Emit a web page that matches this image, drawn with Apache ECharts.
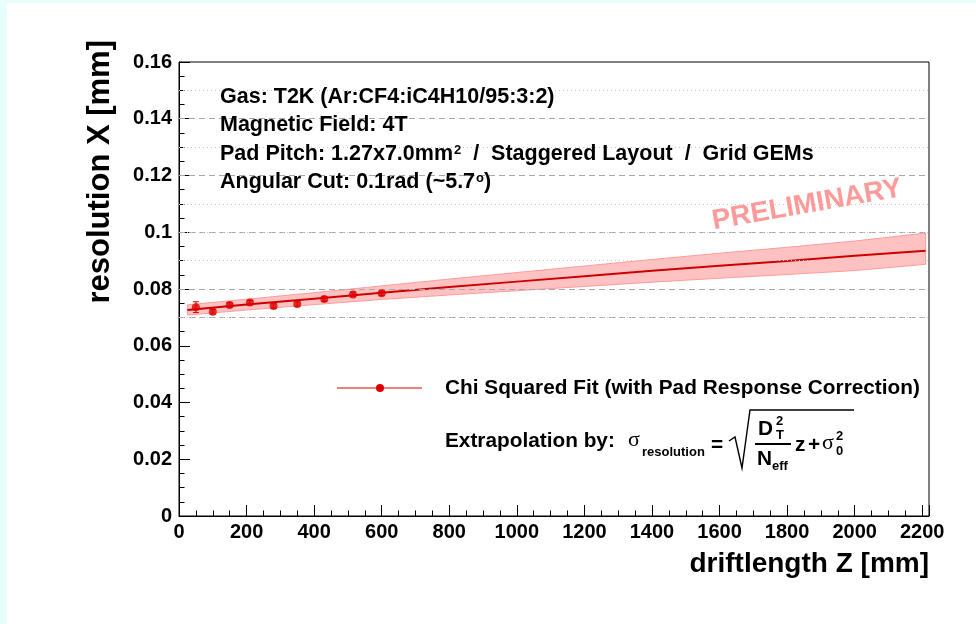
<!DOCTYPE html>
<html>
<head>
<meta charset="utf-8">
<script src="https://cdn.jsdelivr.net/npm/echarts@6/dist/echarts.min.js"></script>
<style>
html,body{margin:0;padding:0;background:#fff;}
#chart{width:976px;height:624px;}
</style>
</head>
<body>
<div id="chart"></div>
<script>
// ---- data ----
const pointZ = [50, 100, 150, 210, 280, 350, 430, 515, 600];
const pointRes = [0.0736, 0.0720, 0.0744, 0.0752, 0.0740, 0.0747, 0.0765, 0.0781, 0.0785];
const pointErr = [0.0019, 0.0008, 0.0008, 0.0008, 0.0008, 0.0008, 0.0008, 0.0008, 0.0008];

const fitZ = [25, 200, 400, 600, 800, 1000, 1200, 1400, 1600, 1800, 2000, 2210];
const fitRes = [0.0726, 0.0745, 0.0766, 0.0787, 0.0807, 0.0826, 0.0845, 0.0864, 0.0882, 0.0899, 0.0917, 0.0935];
const bandHigh = [0.0744, 0.0764, 0.0787, 0.0811, 0.0835, 0.0858, 0.0881, 0.0904, 0.0926, 0.0947, 0.0969, 0.0997];
const bandLow = [0.0708, 0.0726, 0.0745, 0.0763, 0.0779, 0.0794, 0.0809, 0.0824, 0.0838, 0.0851, 0.0865, 0.0887];

const dashedRefLines = [0.14, 0.12, 0.10, 0.08, 0.07];
const dottedRefLines = [0.15, 0.13, 0.11, 0.095, 0.09, 0.075];

const xTickInterval = 200;
const yTickInterval = 0.02;

const infoLines = [
  'Gas: T2K (Ar:CF4:iC4H10/95:3:2)',
  'Magnetic Field: 4T',
  'Pad Pitch: 1.27x7.0mm{sup|2}  /  Staggered Layout  /  Grid GEMs',
  'Angular Cut: 0.1rad (~5.7{sup|o})'
];
const legendLabel = 'Chi Squared Fit (with Pad Response Correction)';
const xTitle = 'driftlength Z [mm]';
const yTitle = 'resolution X [mm]';
const watermark = 'PRELIMINARY';

// ---- chart ----
const FONT = '"Liberation Sans", Arial, Helvetica, sans-serif';
const chart = echarts.init(document.getElementById('chart'), null, {renderer: 'canvas'});

const refLineData = dashedRefLines.map(v => ({yAxis: v, lineStyle: {type: [6, 4], color: '#a8a8a8', width: 1}}))
  .concat(dottedRefLines.map(v => ({yAxis: v, lineStyle: {type: [1, 3], color: '#c8c8c8', width: 1}})));

const graphics = [
  {type: 'rect', shape: {x: 0, y: 0, width: 7, height: 624}, style: {fill: '#e9fdfd'}, silent: true},
  {type: 'rect', shape: {x: 0, y: 0, width: 976, height: 3}, style: {fill: '#e9fdfd'}, silent: true}
];
infoLines.forEach((t, i) => {
  graphics.push({
    type: 'text', z: 50,
    style: {
      x: 220, y: 97 + i * 28.3, text: t, align: 'left', verticalAlign: 'middle',
      font: 'bold 21.5px ' + FONT, fill: '#000',
      rich: {sup: {font: 'bold 13px ' + FONT, fill: '#000', verticalAlign: 'top', padding: [1, 0, 0, 1]}}
    }
  });
});
graphics.push({
  type: 'text', z: 50, rotation: 10 * Math.PI / 180, x: 807, y: 205,
  style: {x: 0, y: 0, text: watermark, align: 'center', verticalAlign: 'middle',
    font: 'bold 28px ' + FONT, fill: '#ff9a9a'}
});
// legend
graphics.push({type: 'line', z: 50, shape: {x1: 337, y1: 388, x2: 422, y2: 388}, style: {stroke: '#dd0000', lineWidth: 1}});
graphics.push({type: 'circle', z: 50, shape: {cx: 380, cy: 388, r: 4}, style: {fill: '#dd0000'}});
graphics.push({type: 'text', z: 50, style: {x: 445, y: 388, text: legendLabel, align: 'left', verticalAlign: 'middle', font: 'bold 20.8px ' + FONT, fill: '#000'}});
// formula
function t(x, y, text, font, align) {
  graphics.push({type: 'text', z: 50, style: {x: x, y: y, text: text, align: align || 'left', verticalAlign: 'middle', font: font, fill: '#000'}});
}
const B20 = 'bold 20.8px ' + FONT, B12 = 'bold 13px ' + FONT, SIG = '22px "Liberation Serif", "DejaVu Serif", serif';
t(445, 441, 'Extrapolation by:', B20);
t(628, 440, 'σ', SIG);
t(642, 452, 'resolution', B12);
t(711, 445, '=', B20);
graphics.push({type: 'polyline', z: 50, shape: {points: [[729, 441], [735, 437], [742, 468], [750, 410], [854, 410]]}, style: {stroke: '#000', lineWidth: 1.4, fill: null}});
t(758, 429, 'D', B20);
t(776, 421, '2', B12);
t(776, 435, 'T', B12);
graphics.push({type: 'line', z: 50, shape: {x1: 755, y1: 444, x2: 791, y2: 444}, style: {stroke: '#000', lineWidth: 2}});
t(757, 459, 'N', B20);
t(772, 466, 'eff', B12);
t(795, 445, 'z', B20);
t(808, 445, '+', B20);
t(822, 443, 'σ', SIG);
t(836, 436, '2', B12);
t(836, 451, '0', B12);
// axis titles
graphics.push({type: 'text', z: 50, style: {x: 929, y: 564, text: xTitle, align: 'right', verticalAlign: 'middle', font: 'bold 28px ' + FONT, fill: '#000'}});
graphics.push({type: 'text', z: 50, rotation: Math.PI / 2, x: 100, y: 40,
  style: {x: 0, y: 0, text: yTitle, align: 'right', verticalAlign: 'middle', font: 'bold 31px ' + FONT, fill: '#000'}});

const axisCommon = {
  axisLine: {show: true, lineStyle: {color: '#000', width: 1}},
  axisTick: {show: true, inside: true, length: 11, lineStyle: {color: '#000'}},
  minorTick: {show: true, splitNumber: 4, length: 5.5, lineStyle: {color: '#000'}},
  splitLine: {show: false},
  axisLabel: {color: '#000', fontFamily: FONT, fontWeight: 'bold', fontSize: 20}
};

chart.setOption({
  backgroundColor: '#fff',
  animation: false,
  grid: {left: 179, right: 47, top: 62, bottom: 108, show: true, borderColor: '#000', borderWidth: 1, backgroundColor: '#fff'},
  xAxis: Object.assign({}, axisCommon, {
    type: 'value', min: 0, max: 2220, interval: xTickInterval,
    axisLabel: Object.assign({}, axisCommon.axisLabel, {margin: 6, formatter: v => String(v)})
  }),
  yAxis: Object.assign({}, axisCommon, {
    type: 'value', min: 0, max: 0.16, interval: yTickInterval,
    axisLabel: Object.assign({}, axisCommon.axisLabel, {margin: 7, formatter: v => String(+v.toFixed(3))})
  }),
  graphic: graphics,
  series: [
    {
      type: 'line', data: [], silent: true, z: 1,
      markLine: {silent: true, symbol: 'none', label: {show: false}, data: refLineData, animation: false}
    },
    {
      type: 'custom', z: 2, silent: true, clip: true,
      data: [[fitZ[0], fitRes[0]]],
      renderItem: function (params, api) {
        const pts = [];
        for (let i = 0; i < fitZ.length; i++) pts.push(api.coord([fitZ[i], bandHigh[i]]));
        for (let i = fitZ.length - 1; i >= 0; i--) pts.push(api.coord([fitZ[i], bandLow[i]]));
        return {type: 'polygon', shape: {points: pts}, style: {fill: '#ffc2c2', stroke: '#ff9c9c', lineWidth: 1}};
      }
    },
    {
      type: 'line', z: 3, data: fitZ.map((z, i) => [z, fitRes[i]]), showSymbol: false, silent: true,
      lineStyle: {color: '#cc0000', width: 2}
    },
    {
      type: 'custom', z: 4, silent: true,
      data: pointZ.map((z, i) => [z, pointRes[i], pointErr[i]]),
      renderItem: function (params, api) {
        const x = api.value(0), y = api.value(1), e = api.value(2);
        const hi = api.coord([x, y + e]), lo = api.coord([x, y - e]);
        return {type: 'group', children: [
          {type: 'line', shape: {x1: hi[0], y1: hi[1], x2: lo[0], y2: lo[1]}, style: {stroke: '#dd0000', lineWidth: 1}},
          {type: 'line', shape: {x1: hi[0] - 3, y1: hi[1], x2: hi[0] + 3, y2: hi[1]}, style: {stroke: '#dd0000', lineWidth: 1}},
          {type: 'line', shape: {x1: lo[0] - 3, y1: lo[1], x2: lo[0] + 3, y2: lo[1]}, style: {stroke: '#dd0000', lineWidth: 1}}
        ]};
      }
    },
    {
      type: 'scatter', z: 5, data: pointZ.map((z, i) => [z, pointRes[i]]),
      symbol: 'circle', symbolSize: 8, itemStyle: {color: '#dd0000'}, silent: true
    }
  ]
});
</script>
</body>
</html>
